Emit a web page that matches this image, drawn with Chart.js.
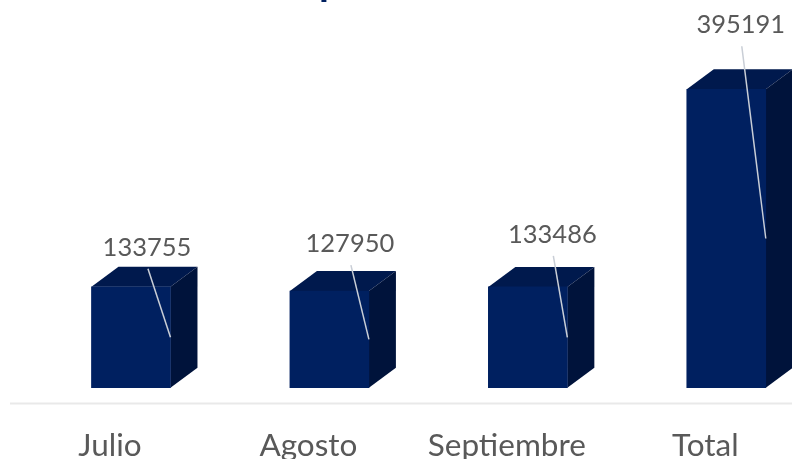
<!DOCTYPE html>
<html>
<head>
<meta charset="utf-8">
<script src="https://cdn.jsdelivr.net/npm/chart.js@4"></script>
<style>
html, body { margin: 0; padding: 0; width: 792px; height: 459px; overflow: hidden; background: #fff; }
canvas { display: block; }
</style>
</head>
<body>
<canvas id="chart" width="900" height="500"></canvas>
<script>
// values
const months = ["Julio", "Agosto", "Septiembre", "Total"];
const amounts = [133755, 127950, 133486, 395191];

// where each value label sits relative to its bar top (dx, dy of text centre)
const labelDx = [16, 20.5, 24.5, 14.5];
const labelDy = [-39, -47, -52, -64];

const depthX = 27;
const depthY = 20;

// extruded top and side faces, drawn behind the bars
const faces = {
    id: "faces",
    beforeDatasetsDraw(chart) {
        const ctx = chart.ctx;
        chart.getDatasetMeta(0).data.forEach((bar) => {
            const left = bar.x - bar.width / 2;
            const right = bar.x + bar.width / 2;
            ctx.fillStyle = "#00194d";
            ctx.beginPath();
            ctx.moveTo(left, bar.y);
            ctx.lineTo(left + depthX, bar.y - depthY);
            ctx.lineTo(right + depthX, bar.y - depthY);
            ctx.lineTo(right, bar.y);
            ctx.closePath();
            ctx.fill();
            ctx.fillStyle = "#00133b";
            ctx.beginPath();
            ctx.moveTo(right, bar.y);
            ctx.lineTo(right + depthX, bar.y - depthY);
            ctx.lineTo(right + depthX, bar.base - depthY);
            ctx.lineTo(right, bar.base);
            ctx.closePath();
            ctx.fill();
        });
    },
};

// axis line, value labels and their leader lines
const callouts = {
    id: "callouts",
    beforeDraw(chart) {
        const ctx = chart.ctx;
        const y = chart.chartArea.bottom;
        ctx.strokeStyle = "#e9e9e9";
        ctx.lineWidth = 2;
        ctx.beginPath();
        ctx.moveTo(10, y);
        ctx.lineTo(chart.width, y);
        ctx.stroke();
        // the title is cut off by the top edge, only the tail of this letter shows
        ctx.fillStyle = "#002060";
        ctx.font = "bold 40px Lato";
        ctx.textAlign = "left";
        ctx.textBaseline = "alphabetic";
        ctx.fillText("p", 319, -5);
    },
    afterDatasetsDraw(chart) {
        const ctx = chart.ctx;
        const yScale = chart.scales.y;
        chart.getDatasetMeta(0).data.forEach((bar, i) => {
            const tx = bar.x + labelDx[i];
            const ty = bar.y + labelDy[i];
            ctx.strokeStyle = "#c9ced6";
            ctx.lineWidth = 1.5;
            ctx.beginPath();
            ctx.moveTo(tx + 1, ty + 21);
            ctx.lineTo(bar.x + bar.width / 2, yScale.getPixelForValue(amounts[i] / 2));
            ctx.stroke();
            ctx.fillStyle = "#595959";
            ctx.font = "25.5px Lato";
            ctx.textAlign = "center";
            ctx.textBaseline = "middle";
            ctx.fillText(String(amounts[i]), tx, ty);
        });
    },
};

new Chart(document.getElementById("chart"), {
    type: "bar",
    data: {
        labels: months,
        datasets: [
            {
                data: amounts,
                backgroundColor: "#002060",
                barThickness: 79,
            },
        ],
    },
    options: {
        responsive: false,
        animation: false,
        layout: { padding: { left: 31.75, right: 74.5, top: 85.6, bottom: 20.6 } },
        plugins: { legend: { display: false }, tooltip: { enabled: false } },
        scales: {
            x: {
                grid: { display: false },
                border: { display: false },
                ticks: {
                    color: "#595959",
                    font: { family: "Lato", size: 31.5 },
                    padding: 15,
                    labelOffset: -21,
                    maxRotation: 0,
                },
            },
            y: { display: false, min: -21000, max: 400000 },
        },
    },
    plugins: [faces, callouts],
});
</script>
</body>
</html>
